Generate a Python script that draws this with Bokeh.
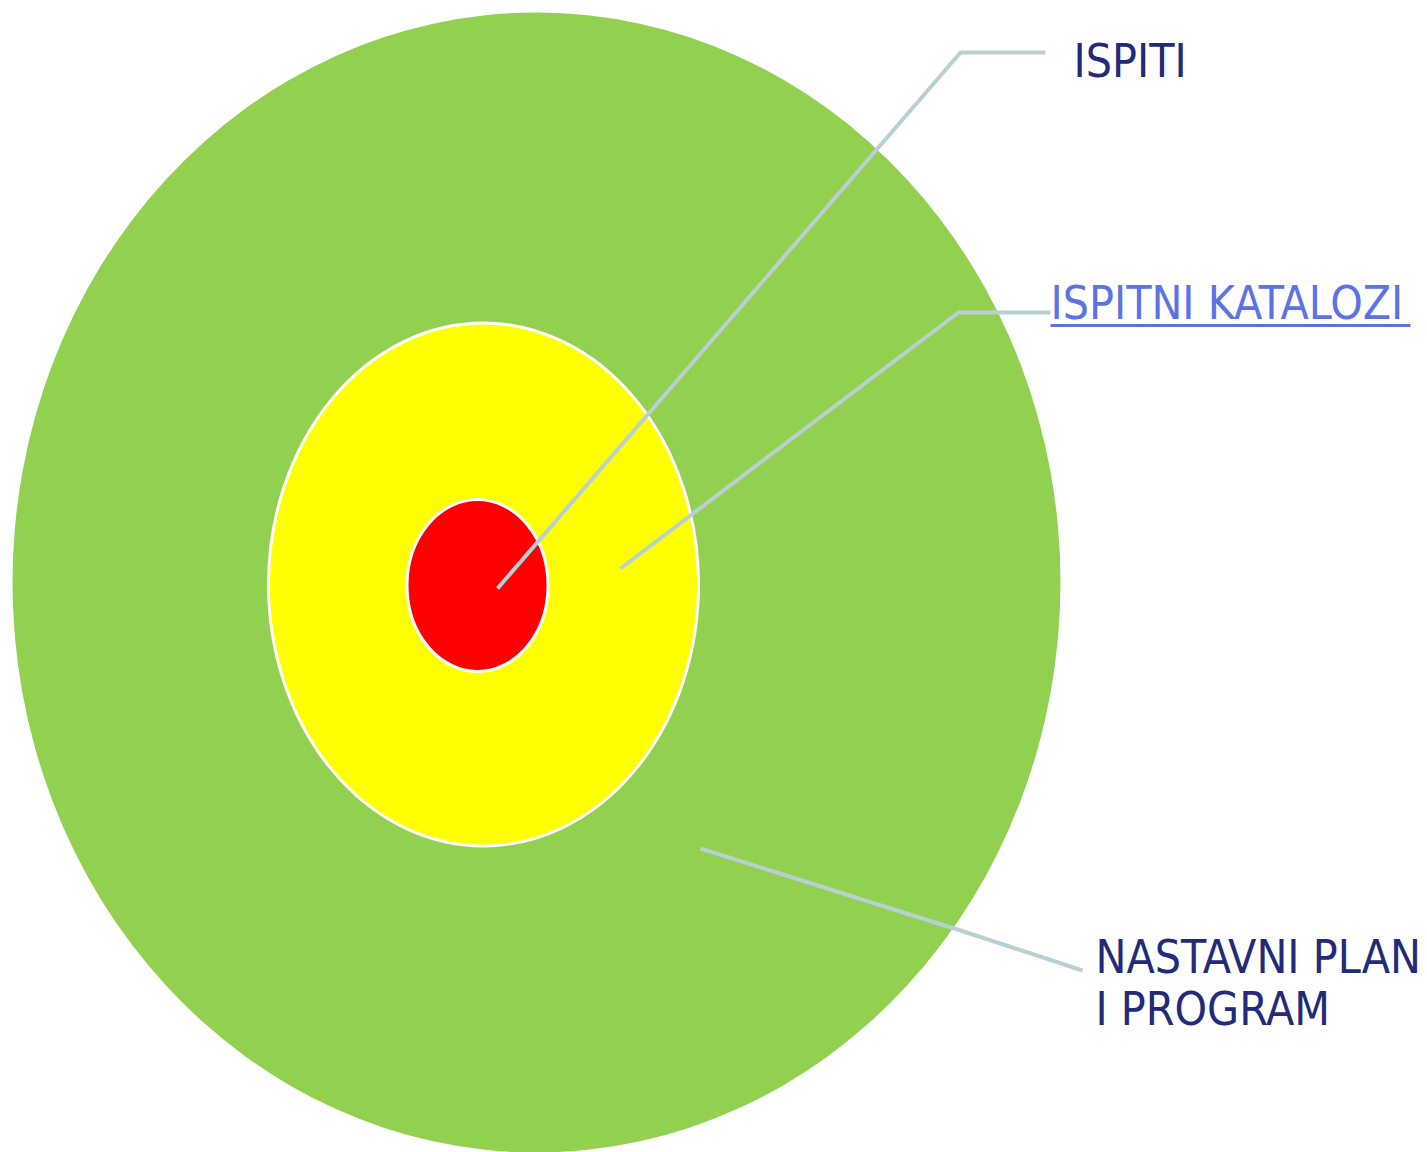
from bokeh.plotting import figure
from bokeh.models import Range1d
from bokeh.core.properties import value
from bokeh.embed import file_html
from bokeh.resources import INLINE

# Rings (outer to inner), in reference pixel coordinates
ring_names = ["NASTAVNI PLAN I PROGRAM", "ISPITNI KATALOZI", "ISPITI"]
ring_cx = [536, 483, 477]
ring_cy = [582, 584, 585]
ring_w = [1048, 430, 141]
ring_h = [1140, 523, 172]
ring_colors = ["#92d050", "#ffff00", "#ff0000"]
ring_outline = [None, "white", "white"]

# Leader lines
leader_xs = [[497, 960, 1045], [620, 958, 1050], [700, 960, 1082]]
leader_ys = [[588, 52, 52], [568, 312, 312], [848, 930, 970]]
leader_color = "#b9d0d2"

# Labels (y = vertical centre of capitals)
label_text = ["ISPITI", "ISPITNI KATALOZI", "NASTAVNI PLAN", "I PROGRAM"]
label_x = [1073, 1050, 1095, 1095]
label_y = [60, 302, 956, 1008]
label_color = ["#232a78", "#5c72e6", "#232a78", "#232a78"]
underline_x = [1050, 1410]
underline_y = [325, 325]

p = figure(width=1427, height=1152, output_backend="svg", toolbar_location=None,
           x_range=Range1d(0, 1427), y_range=Range1d(1152, 0),
           min_border=0, outline_line_color=None)
p.axis.visible = False
p.grid.visible = False
p.background_fill_color = "white"
p.border_fill_color = "white"

for i in range(len(ring_names)):
    p.ellipse(x=[ring_cx[i]], y=[ring_cy[i]], width=[ring_w[i]], height=[ring_h[i]],
              fill_color=ring_colors[i], line_color=ring_outline[i], line_width=3)

for xs, ys in zip(leader_xs, leader_ys):
    p.line(x=xs, y=ys, line_color=leader_color, line_width=4)

p.text(x=label_x, y=label_y, text=label_text, text_color=label_color,
       text_font=value("DejaVu Sans Condensed"), text_font_size="46px",
       text_baseline="middle", text_align="left")
p.line(x=underline_x, y=underline_y, line_color="#5c72e6", line_width=3)

open("out.html", "w").write(file_html(p, INLINE))
